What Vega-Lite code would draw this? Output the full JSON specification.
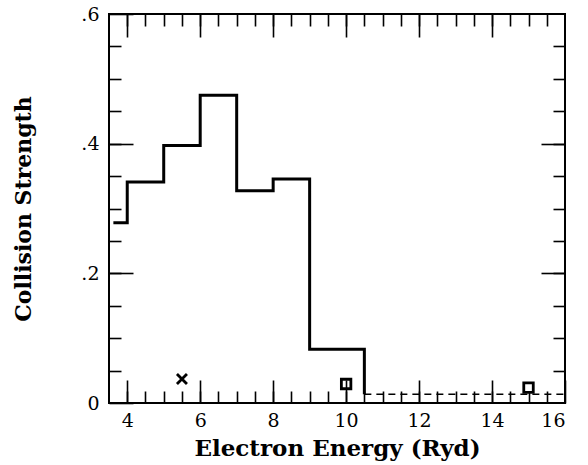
{
  "$schema": "https://vega.github.io/schema/vega-lite/v6.json",
  "width": 456,
  "height": 389,
  "autosize": "none",
  "padding": {"left": 109, "top": 14, "right": 23, "bottom": 62},
  "background": "white",
  "config": {
    "view": {"stroke": "black", "strokeWidth": 2},
    "font": "DejaVu Serif",
    "axis": {"grid": false, "domain": false, "tickColor": "black", "tickWidth": 1.6, "labelColor": "black", "titleColor": "black"}
  },
  "datasets": {
    "solid": [
      {"energy": 3.62, "omega": 0.278},
      {"energy": 4, "omega": 0.341},
      {"energy": 5, "omega": 0.397},
      {"energy": 6, "omega": 0.4746},
      {"energy": 7, "omega": 0.3275},
      {"energy": 8, "omega": 0.3455},
      {"energy": 9, "omega": 0.0828},
      {"energy": 10.5, "omega": 0.0828},
      {"energy": 10.5, "omega": 0.0134}
    ],
    "dashed": [
      {"energy": 10.5, "omega": 0.0134},
      {"energy": 16, "omega": 0.0134}
    ],
    "cross": [{"energy": 5.5, "omega": 0.037}],
    "squares": [
      {"energy": 10, "omega": 0.0293},
      {"energy": 15, "omega": 0.0236}
    ]
  },
  "resolve": {"axis": {"x": "independent", "y": "independent"}},
  "layer": [
    {
      "data": {"name": "solid"},
      "mark": {"type": "line", "interpolate": "step-after", "color": "black", "strokeWidth": 3},
      "encoding": {
        "x": {"field": "energy", "type": "quantitative", "scale": {"domain": [3.5, 16], "nice": false},
          "axis": {"orient": "bottom", "values": [4,4.5,5,5.5,6,6.5,7,7.5,8,8.5,9,9.5,10,10.5,11,11.5,12,12.5,13,13.5,14,14.5,15,15.5], "tickSize": -12, "labels": false, "title": null}},
        "y": {"field": "omega", "type": "quantitative", "scale": {"domain": [0, 0.6], "nice": false},
          "axis": {"orient": "left", "values": [0.05,0.1,0.15,0.2,0.25,0.3,0.35,0.4,0.45,0.5,0.55], "tickSize": -12, "labels": false, "title": null}},
        "order": {"value": null}
      }
    },
    {
      "data": {"name": "dashed"},
      "mark": {"type": "line", "color": "black", "strokeWidth": 1.6, "strokeDash": [7, 5]},
      "encoding": {
        "x": {"field": "energy", "type": "quantitative",
          "axis": {"orient": "top", "values": [4,4.5,5,5.5,6,6.5,7,7.5,8,8.5,9,9.5,10,10.5,11,11.5,12,12.5,13,13.5,14,14.5,15,15.5], "tickSize": -12, "labels": false, "title": null}},
        "y": {"field": "omega", "type": "quantitative",
          "axis": {"orient": "right", "values": [0.05,0.1,0.15,0.2,0.25,0.3,0.35,0.4,0.45,0.5,0.55], "tickSize": -12, "labels": false, "title": null}}
      }
    },
    {
      "data": {"name": "cross"},
      "mark": {"type": "point", "shape": "M-1,-1L1,1M-1,1L1,-1", "filled": false, "color": "black", "strokeWidth": 2.8, "size": 100, "opacity": 1},
      "encoding": {
        "x": {"field": "energy", "type": "quantitative",
          "axis": {"orient": "bottom", "values": [4,6,8,10,12,14,16], "tickSize": -23, "labelPadding": 31, "labelFontSize": 19, "labelFont": "DejaVu Serif",
            "title": "Electron Energy (Ryd)", "titleFont": "DejaVu Serif", "titleFontWeight": "bold", "titleFontSize": 23, "titlePadding": 7}},
        "y": {"field": "omega", "type": "quantitative",
          "axis": {"orient": "left", "values": [0, 0.2, 0.4, 0.6], "tickSize": -24, "labelPadding": 34, "labelFontSize": 19, "labelFont": "DejaVu Serif",
            "labelExpr": "datum.value == 0 ? '0' : '.' + format(datum.value * 10, 'd')",
            "title": "Collision Strength", "titleFont": "DejaVu Serif", "titleFontWeight": "bold", "titleFontSize": 22, "titlePadding": 45}}
      }
    },
    {
      "data": {"name": "squares"},
      "mark": {"type": "point", "shape": "square", "filled": false, "color": "black", "strokeWidth": 2.8, "size": 90, "opacity": 1},
      "encoding": {
        "x": {"field": "energy", "type": "quantitative",
          "axis": {"orient": "top", "values": [4,6,8,10,12,14], "tickSize": -23, "labels": false, "title": null}},
        "y": {"field": "omega", "type": "quantitative",
          "axis": {"orient": "right", "values": [0.2, 0.4], "tickSize": -24, "labels": false, "title": null}}
      }
    }
  ]
}
